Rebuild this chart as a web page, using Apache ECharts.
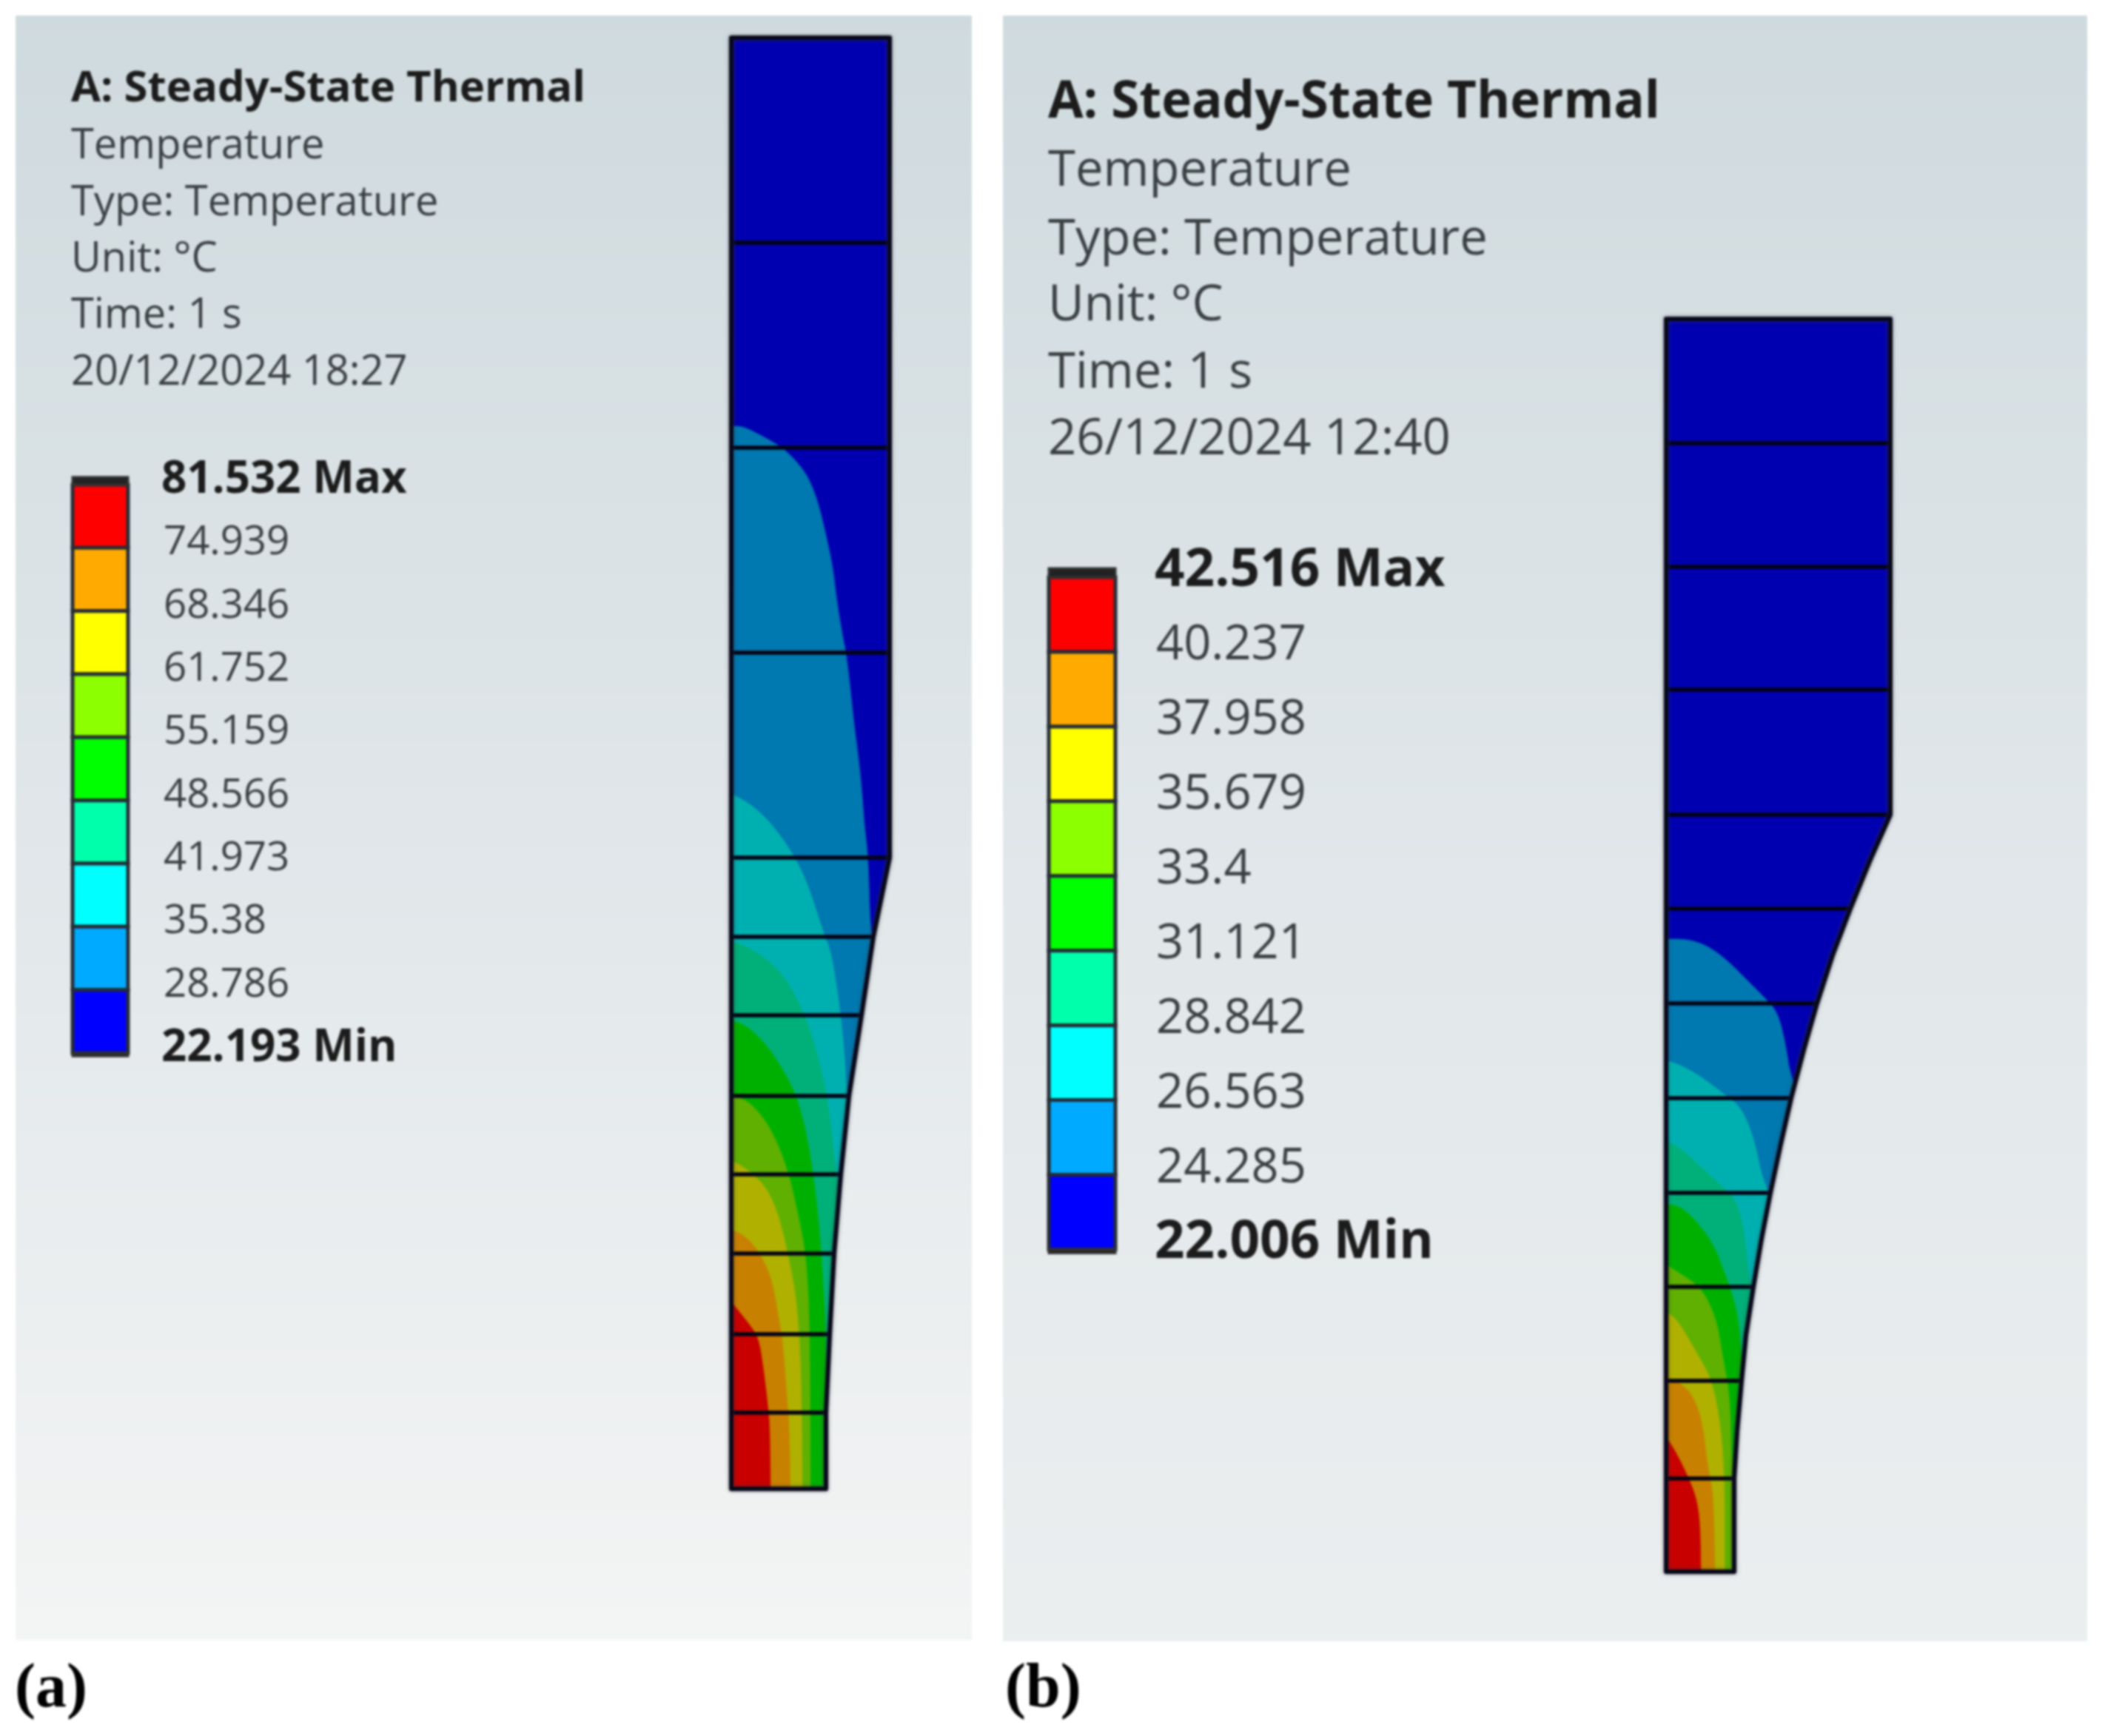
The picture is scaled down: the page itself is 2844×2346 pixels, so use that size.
<!DOCTYPE html>
<html><head><meta charset="utf-8">
<style>html,body{margin:0;padding:0;background:#fff}#c{width:2844px;height:2346px;filter:blur(1.5px)}</style>
<script src="https://cdn.jsdelivr.net/npm/echarts@6/dist/echarts.min.js"></script>
</head><body><div id="c"></div>
<script>
// ---------- text ----------
const headerA = ['A: Steady-State Thermal','Temperature','Type: Temperature','Unit: °C','Time: 1 s','20/12/2024 18:27'];
const headerB = ['A: Steady-State Thermal','Temperature','Type: Temperature','Unit: °C','Time: 1 s','26/12/2024 12:40'];
const ticksA = ['81.532 Max','74.939','68.346','61.752','55.159','48.566','41.973','35.38','28.786','22.193 Min'];
const ticksB = ['42.516 Max','40.237','37.958','35.679','33.4','31.121','28.842','26.563','24.285','22.006 Min'];
const panelLabels = ['a','b'];
// ---------- colours ----------
const legendColors = ['#ff0000','#ffaa00','#ffff00','#8cff00','#00ff00','#00ffaa','#00ffff','#00aaff','#0000ff'];
const fieldBase = '#0000b0';
const fieldColors = ['#0078b0','#00b0b0','#00b078','#00b000','#5fb000','#b0b000','#c88000','#c80000'];
// ---------- specimen (a): radial x, axial y from bottom-left corner ----------
const aEdge = [[128,0],[128,103],[133,209],[139,318],[148,425],[159,531],[176,640],[192,746],[214,853],[214,1961]];
const aMesh = [103,209,318,425,531,640,746,853,1130,1407,1684];
const aIso1 = [[0,1436],[15,1436],[38,1425],[68,1408],[88,1389],[105,1366],[118,1331],[128,1289],[137,1247],[143,1197],[150,1155],[155,1130],[160,1090],[165,1040],[172,987],[176,949],[180,895],[185,853],[188,747],[200,700],[214,0]];
const aIso2 = [[0,939],[22,928],[45,909],[68,881],[88,850],[105,813],[125,750],[135,725],[143,675],[148,638],[153,588],[156,531],[170,460],[170,0]];
const aIso3 = [[0,741],[25,731],[52,713],[75,688],[98,644],[115,594],[128,538],[135,488],[142,425],[150,350],[150,0]];
const aIso4 = [[0,634],[22,625],[48,600],[72,563],[88,531],[100,488],[110,431],[118,363],[122,313],[127,231],[128,150],[128,0]];
const aIso5 = [[0,531],[22,525],[45,500],[62,469],[78,425],[88,381],[97,338],[102,300],[106,225],[107,0]];
const aIso6 = [[0,443],[12,438],[30,425],[48,406],[62,375],[72,338],[80,300],[87,263],[92,206],[95,125],[96,0]];
const aIso7 = [[0,350],[15,344],[32,328],[45,306],[55,281],[63,238],[70,194],[75,125],[78,88],[80,0]];
const aIso8 = [[0,253],[15,234],[27,219],[37,203],[43,166],[48,125],[52,88],[53,0]];
// ---------- specimen (b) ----------
const bEdge = [[92,0],[92,126],[96,190],[102,258],[108,320],[118,385],[129,450],[141,512],[155,578],[169,640],[186,705],[204,768],[225,833],[249,896],[275,960],[303,1023],[303,1693]];
const bMesh = [126,258,385,512,640,768,896,1023,1192,1358,1525];
const bIso1 = [[0,855],[29,855],[56,846],[82,827],[109,800],[136,773],[151,755],[161,716],[169,664],[200,600],[200,0]];
const bIso2 = [[0,691],[19,685],[46,670],[79,645],[102,627],[119,585],[129,536],[139,512],[160,450],[160,0]];
const bIso3 = [[0,582],[19,573],[46,548],[79,518],[96,500],[106,458],[112,397],[118,380],[130,300],[130,0]];
const bIso4 = [[0,497],[19,494],[42,473],[66,439],[79,403],[86,385],[97,348],[102,291],[110,200],[110,0]];
const bIso5 = [[0,415],[19,403],[42,388],[57,367],[69,336],[76,294],[86,239],[88,167],[90,100],[91,0]];
const bIso6 = [[0,352],[16,339],[32,312],[46,288],[59,264],[69,227],[76,173],[79,112],[79,0]];
const bIso7 = [[0,264],[19,255],[36,239],[49,203],[56,142],[64,106],[66,0]];
const bIso8 = [[0,182],[12,164],[29,130],[41,100],[46,64],[47,0]];

const aIsos = [aIso1,aIso2,aIso3,aIso4,aIso5,aIso6,aIso7,aIso8];
const bIsos = [bIso1,bIso2,bIso3,bIso4,bIso5,bIso6,bIso7,bIso8];

function edgeX(edge,y){
  for(let i=1;i<edge.length;i++){
    if(y<=edge[i][1]){const p=edge[i-1],q=edge[i];const t=(y-p[1])/((q[1]-p[1])||1);return p[0]+t*(q[0]-p[0]);}
  }
  return edge[edge.length-1][0];
}
function rounded(curve){
  let c=curve;
  for(let n=0;n<2;n++){
    const o=[c[0]];
    for(let i=0;i<c.length-1;i++){
      const p=c[i],q=c[i+1];
      if(i>0)o.push([p[0]*.75+q[0]*.25,p[1]*.75+q[1]*.25]);
      if(i<c.length-2)o.push([p[0]*.25+q[0]*.75,p[1]*.25+q[1]*.75]);
    }
    o.push(c[c.length-1]);c=o;
  }
  return c;
}
function clampCurve(curve,edge){
  const c=rounded(curve);
  const out=[[0,0],c[0]];
  for(let i=1;i<c.length;i++){
    const p=c[i-1],q=c[i];
    for(let k=1;k<=6;k++){const t=k/6;const x=p[0]+t*(q[0]-p[0]),y=p[1]+t*(q[1]-p[1]);out.push([Math.min(x,edgeX(edge,y)),y]);}
  }
  return out;
}
function specimenSeries(idx,edge,mesh,isos){
  const outline=[[0,0]].concat(edge,[[0,edge[edge.length-1][1]]]);
  const polys=[{p:outline,c:fieldBase}].concat(isos.map((c,i)=>({p:clampCurve(c,edge),c:fieldColors[i]})));
  const lines=mesh.map(y=>[[0,y],[edgeX(edge,y),y]]);
  return [
   {type:'custom',xAxisIndex:idx,yAxisIndex:idx,clip:false,silent:true,data:polys.map((_,i)=>i),
    renderItem:(params,api)=>{const d=polys[params.dataIndex];
      return {type:'polygon',shape:{points:d.p.map(v=>api.coord(v))},style:{fill:d.c,stroke:d.c,lineWidth:0.5}};}},
   {type:'custom',xAxisIndex:idx,yAxisIndex:idx,clip:false,silent:true,data:lines.map((_,i)=>i),
    renderItem:(params,api)=>{const l=lines[params.dataIndex],a=api.coord(l[0]),b=api.coord(l[1]);
      return {type:'line',shape:{x1:a[0],y1:a[1],x2:b[0],y2:b[1]},style:{stroke:'#020214',lineWidth:5.5}};}},
   {type:'custom',xAxisIndex:idx,yAxisIndex:idx,clip:false,silent:true,data:[0],
    renderItem:(params,api)=>({type:'polygon',shape:{points:outline.map(v=>api.coord(v))},style:{fill:'none',stroke:'#08081a',lineWidth:6,lineJoin:'round',shadowBlur:5,shadowColor:'rgba(60,60,70,0.7)'}})}
  ];
}
function legendSeries(idx){
  return {type:'custom',xAxisIndex:idx,yAxisIndex:idx,clip:false,silent:true,data:legendColors.map((_,i)=>i).concat([-1,-2]),
    renderItem:(params,api)=>{
      const i=api.value(0);
      if(i<0){const a=api.coord(i===-1?[0,-0.12]:[0,9]),b=api.coord(i===-1?[1,0]:[1,9.05]);return {type:'rect',shape:{x:a[0],y:a[1],width:b[0]-a[0],height:b[1]-a[1]},style:{fill:'#222',stroke:'#333',lineWidth:3}};}
      const a=api.coord([0,i]),b=api.coord([1,i+1]);
      return {type:'rect',shape:{x:a[0],y:a[1],width:b[0]-a[0],height:b[1]-a[1]},style:{fill:legendColors[i],stroke:'#252c34',lineWidth:5}};
    }};
}
function gradient(bottom){return new echarts.graphic.LinearGradient(0,0,0,1,[{offset:0,color:'#cfdade'},{offset:0.5,color:'#e0e6e9'},{offset:1,color:bottom}]);}
const hidden={show:false,splitLine:{show:false}};
function legendAxis(ticks,fs,bfs,pad,margin,indent){
  return {type:'value',position:'right',gridIndex:0,min:0,max:9,interval:1,inverse:true,splitLine:{show:false},axisLine:{show:false},axisTick:{show:false},
    axisLabel:{margin,align:'left',padding:[0,0,pad,0],
      formatter:v=>{const t=ticks[v];return (v===0||v===9)?'{b|'+t+'}':'{n|'+t+'}';},
      rich:{b:{fontFamily:'Open Sans',fontWeight:'bold',fontSize:bfs,lineHeight:bfs,color:'#1c1c1c'},
            n:{fontFamily:'Open Sans',fontSize:fs,lineHeight:fs,color:'#3a3f42',padding:[0,0,0,indent]}}}};
}
function headerTitles(lines,left,tops,fs,bfs){
  return lines.map((t,i)=>({text:t,left,top:tops[i],padding:0,textStyle:{fontFamily:'Open Sans',fontWeight:i===0?'bold':'normal',fontSize:i===0?bfs:fs,lineHeight:i===0?bfs:fs,color:i===0?'#1c1c1c':'#3a3f42'}}));
}
const headerTopA=[91,170,247,323,399,476];
const headerTopB=[105,198,291,380,471,561];
const option={
  backgroundColor:'#ffffff',animation:false,
  title:[].concat(
    headerTitles(headerA,96,headerTopA,56,58),
    headerTitles(headerB,1416,headerTopB,67,69),
    panelLabels.map((p,i)=>({text:'{n|(}{b|'+p+'}{n|)}',left:[20,1358][i],top:2242,padding:0,
      textStyle:{rich:{n:{fontFamily:'Liberation Serif',fontSize:84,color:'#000'},b:{fontFamily:'Liberation Serif',fontWeight:'bold',fontSize:84,color:'#000'}}}}))
  ),
  grid:[
    {left:21,top:21,width:1292,height:2195,show:true,borderWidth:0,backgroundColor:gradient('#f3f4f4')},
    {left:1355,top:21,width:1465,height:2197,show:true,borderWidth:0,backgroundColor:gradient('#ebeeef')},
    {left:98,top:655,width:75,height:768},
    {left:1417,top:780,width:90,height:908.5}
  ],
  xAxis:[
    {type:'value',gridIndex:0,min:-967,max:325,...hidden},
    {type:'value',gridIndex:1,min:-896,max:569,...hidden},
    {type:'value',gridIndex:2,min:0,max:1,...hidden},
    {type:'value',gridIndex:3,min:0,max:1,...hidden}
  ],
  yAxis:[
    {type:'value',gridIndex:0,min:-204,max:1991,...hidden},
    {type:'value',gridIndex:1,min:-94,max:2103,...hidden},
    Object.assign(legendAxis(ticksA,54.5,60,13,45,3),{gridIndex:2}),
    Object.assign(legendAxis(ticksB,65,71,17,53,2),{gridIndex:3})
  ],
  series:[].concat(specimenSeries(0,aEdge,aMesh,aIsos),specimenSeries(1,bEdge,bMesh,bIsos),[legendSeries(2),legendSeries(3)])
};
const chart=echarts.init(document.getElementById('c'),null,{renderer:'canvas',width:2844,height:2346});
chart.setOption(option);
</script></body></html>
